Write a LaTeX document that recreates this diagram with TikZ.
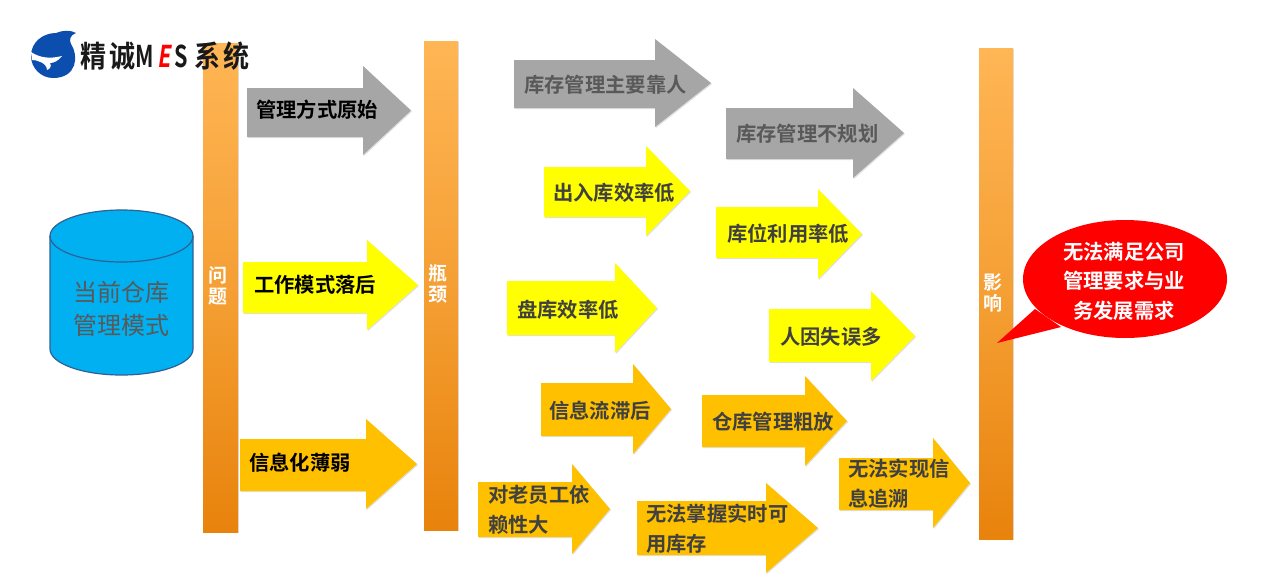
\documentclass[tikz,border=0pt]{standalone}
\usepackage{fontspec}
\setmainfont{Noto Sans CJK SC}[BoldFont=* Bold]
\usetikzlibrary{shadows,calc}
\definecolor{agray}{HTML}{A6A6A6}
\definecolor{ayellow}{HTML}{FFFF00}
\definecolor{aorange}{HTML}{FFC000}
\definecolor{barTop}{HTML}{FFB655}
\definecolor{barBot}{HTML}{E8830C}
\definecolor{cylFill}{HTML}{00B0F0}
\definecolor{cylEdge}{HTML}{2F6096}
\definecolor{logoBlue}{HTML}{0B4EAE}
\definecolor{txtDark}{HTML}{404040}
\definecolor{txtGray}{HTML}{595959}
\tikzset{
  softshadow/.style={drop shadow={shadow xshift=1pt,shadow yshift=-1pt,opacity=.12,fill=black}},
  vbar/.style={shade,top color=barTop,bottom color=barBot,middle color=barTop!55!barBot,softshadow},
  arrowbody/.style={softshadow},
  arrowlabel/.style={anchor=west,inner sep=0pt,align=left,font=\fontsize{20.3}{30}\selectfont\bfseries},
  barlabel/.style={inner sep=0pt,text=white,font=\fontsize{19}{22}\selectfont\bfseries,align=center},
  logotext/.style={inner sep=0pt,text=black!90,yscale=1.15,font=\fontsize{26}{28}\selectfont\bfseries},
  logolatin/.style={inner sep=0pt,xscale=.72,font=\fontsize{30}{32}\selectfont\bfseries},
}
% #1 name, #2 colour, #3 x tail, #4 x head start, #5 x tip, #6 y centre, #7 shaft top, #8 shaft bottom, #9 half head
\newcommand{\blockarrow}[9]{%
  \path[fill=#2,arrowbody] (#3,#7) -- (#4,#7) -- (#4,#6-#9) -- (#5,#6) -- (#4,#6+#9) -- (#4,#8) -- (#3,#8) -- cycle;
  \coordinate (#1) at (#3,#6);
}
\begin{document}
\begin{tikzpicture}[x=1pt,y=-1pt]
\useasboundingbox[fill=white] (0,0) rectangle (1267,587);

% cylinder
\path[fill=cylFill,draw=cylEdge,line width=1.2pt]
  (50,236) -- (50,349) arc[start angle=180,end angle=0,x radius=71.5,y radius=26] -- (193,236) arc[start angle=0,end angle=-180,x radius=71.5,y radius=26] -- cycle;
\path[draw=cylEdge,line width=1.2pt] (50,236) arc[start angle=180,end angle=0,x radius=71.5,y radius=26];
\node[inner sep=0pt,text=txtGray,align=center,font=\fontsize{24}{33}\selectfont] (cyl) at (121,309) {当前仓库\\管理模式};

% bars
\path[vbar] (203,43) rectangle (238,532);
\path[vbar] (424,41) rectangle (458,530);
\path[vbar] (979,48) rectangle (1013,539);
\node[barlabel] (wenti) at (218,286) {问\\[-1pt]题};
\node[barlabel] (pingjing) at (438,284) {瓶\\[-1pt]颈};
\node[barlabel] (yingxiang) at (993,293) {影\\[-1pt]响};

% arrows
\blockarrow{a1}{agray}{247}{363}{411}{110.5}{88}{137}{44.5}
\blockarrow{a2}{ayellow}{243}{367}{418}{285}{262}{313}{45}
\blockarrow{a3}{aorange}{240}{366}{417}{464}{439}{491}{45}
\blockarrow{a4}{agray}{514}{655}{711}{83}{60}{108}{44}
\blockarrow{a5}{agray}{726}{853}{904}{133}{108}{159}{45}
\blockarrow{a6}{ayellow}{544}{646}{690}{191}{167}{217}{45}
\blockarrow{a7}{ayellow}{716}{818}{862}{234}{207}{258}{45}
\blockarrow{a8}{ayellow}{507}{615}{657}{308}{281}{335}{45}
\blockarrow{a9}{ayellow}{769}{871}{915}{336}{309}{362}{45}
\blockarrow{a10}{aorange}{541}{633}{671}{409}{383}{436}{45}
\blockarrow{a11}{aorange}{702}{805}{847}{421}{395}{447}{45}
\blockarrow{a12}{aorange}{839}{933}{970}{483}{458}{510}{45}
\blockarrow{a13}{aorange}{478}{572}{610}{509}{482}{537}{45}
\blockarrow{a14}{aorange}{637}{766}{818}{528}{501}{555}{45}

\node[arrowlabel,text=black] (t1) at (256,110) {管理方式原始};
\node[arrowlabel,text=black] (t2) at (254,285) {工作模式落后};
\node[arrowlabel,text=black] (t3) at (249,463) {信息化薄弱};
\node[arrowlabel,text=txtGray] (t4) at (524,85) {库存管理主要靠人};
\node[arrowlabel,text=txtGray] (t5) at (736,134) {库存管理不规划};
\node[arrowlabel,text=txtDark] (t6) at (553,193) {出入库效率低};
\node[arrowlabel,text=txtDark] (t7) at (727,234) {库位利用率低};
\node[arrowlabel,text=txtDark] (t8) at (517,310) {盘库效率低};
\node[arrowlabel,text=txtDark] (t9) at (780,337) {人因失误多};
\node[arrowlabel,text=txtDark] (t10) at (549,411) {信息流滞后};
\node[arrowlabel,text=txtDark] (t11) at (712,422) {仓库管理粗放};
\node[arrowlabel,text=txtDark] (t12) at (848,484) {无法实现信\\息追溯};
\node[arrowlabel,text=txtDark] (t13) at (488,510) {对老员工依\\赖性大};
\node[arrowlabel,text=txtDark] (t14) at (646,529) {无法掌握实时可\\用库存};

% callout
\path[fill=red] (1125,279) ellipse[x radius=102,y radius=59];
\path[fill=red] (997,343) -- (1035,309) -- (1061,327) -- cycle;
\node[inner sep=0pt,text=white,align=center,font=\fontsize{20.3}{29.5}\selectfont\bfseries] (call) at (1124,281) {无法满足公司\\管理要求与业\\务发展需求};

% logo
\path[fill=logoBlue] (31,56)
  .. controls (31,42) and (43,33) .. (56,33)
  .. controls (63,30) and (71,30) .. (76,33)
  .. controls (70,35) and (69,40) .. (71,44)
  .. controls (79,56) and (77,78) .. (53,78)
  .. controls (41,78) and (31,68) .. (31,56) -- cycle;
\path[fill=white] (31,52) .. controls (40,58) and (50,59) .. (62,56)
  .. controls (58,61) and (54,63) .. (50,63)
  .. controls (52,66) and (50,69) .. (47,70)
  .. controls (47,63) and (37,60) .. (32,60) -- cycle;
\node[logotext] (l1) at (93,56) {精};
\node[logotext] (l2) at (122,56) {诚};
\node[logolatin,text=black!90] (l3) at (145,56) {M};
\node[logolatin,text=red] (l4) at (164,56) {\addfontfeature{FakeSlant=0.2}E};
\node[logolatin,text=black!90] (l5) at (181,56) {S};
\node[logotext] (l6) at (207,56) {系};
\node[logotext] (l7) at (236,56) {统};
\end{tikzpicture}
\end{document}
